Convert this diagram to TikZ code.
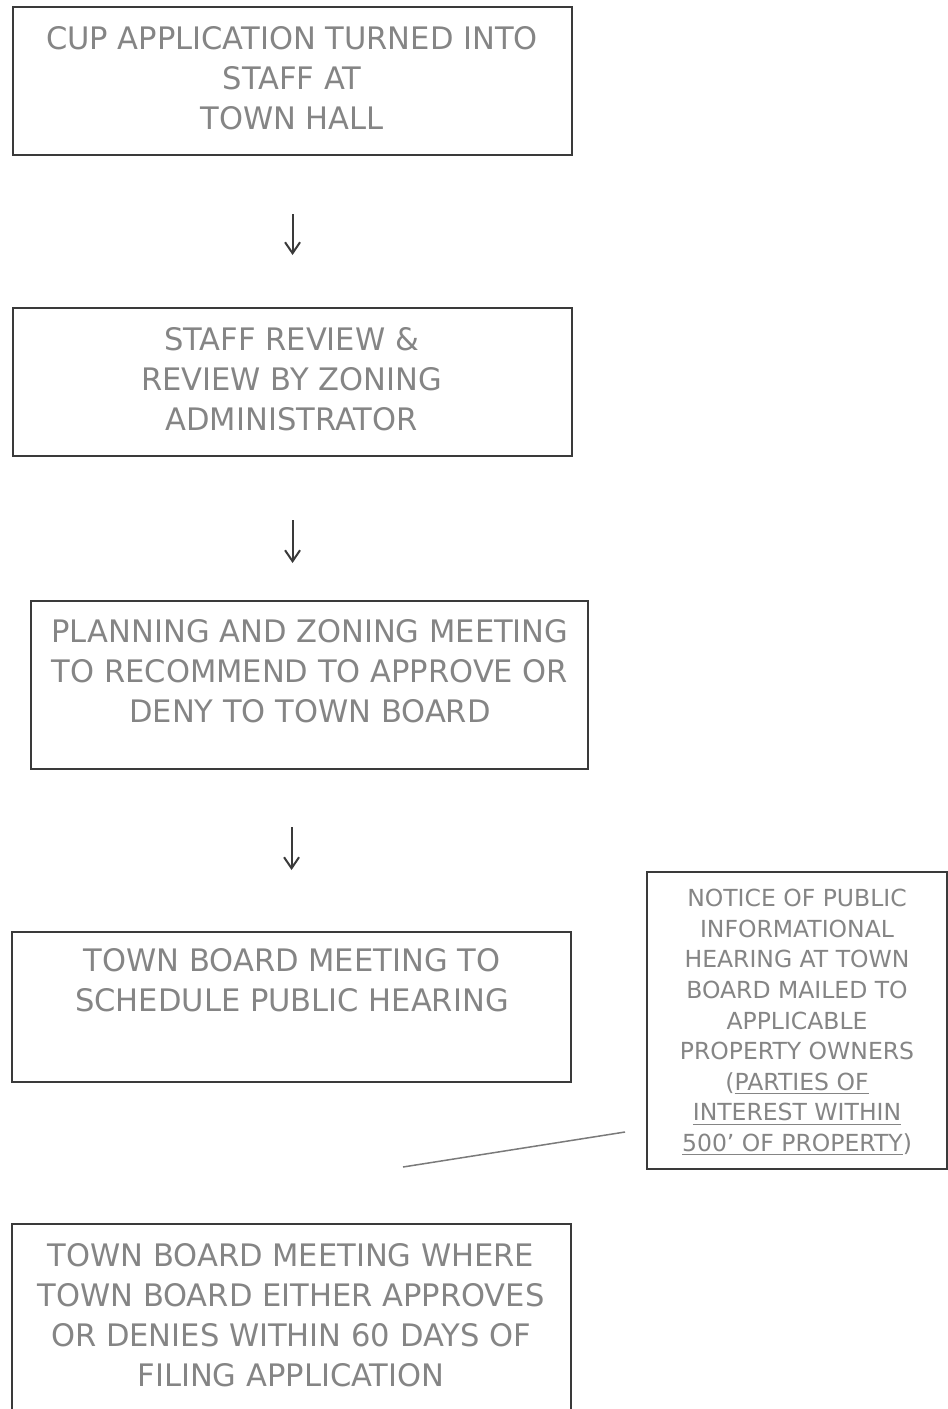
\documentclass[tikz,border=0pt]{standalone}
\usepackage{fontspec}
\setmainfont{DejaVu Sans}
\newfontfamily\stepfont[FakeStretch=0.985]{DejaVu Sans}
\usetikzlibrary{arrows.meta}
\definecolor{inkgray}{HTML}{858585}
\definecolor{framegray}{HTML}{3A3A3A}
\definecolor{leadgray}{HTML}{7A7A7A}
% underline drawn as an explicit rule below the baseline
\newcommand\ulin[1]{\setbox0\hbox{#1}\rlap{\color{inkgray}\rule[-4pt]{\wd0}{1.1pt}}\box0}

\begin{document}
\begin{tikzpicture}[x=1pt,y=-1pt,
  stepbox/.style={draw=framegray, line width=2.1pt, rectangle, inner sep=0pt, anchor=north west},
  bigtext/.style={text=inkgray, inner sep=0pt, anchor=north, align=center, font=\stepfont\fontsize{31}{40}\selectfont},
  smalltext/.style={text=inkgray, inner sep=0pt, anchor=north, align=center, font=\fontsize{23.5}{30.6}\selectfont},
  flow/.style={draw=framegray, line width=2pt, -{Straight Barb[length=11pt,width=15pt,line width=2pt]}},
  leader/.style={draw=leadgray, line width=1.5pt}]

\useasboundingbox (0,0) rectangle (948,1409);
\fill[white] (0,0) rectangle (948,1409);
\clip (0,0) rectangle (948,1409);

% process boxes
\node[stepbox, minimum width=559pt, minimum height=148pt] (b1) at (12,6) {};
\node[stepbox, minimum width=559pt, minimum height=148pt] (b2) at (12,307) {};
\node[stepbox, minimum width=557pt, minimum height=168pt] (b3) at (30,600) {};
\node[stepbox, minimum width=559pt, minimum height=150pt] (b4) at (11,931) {};
\node[stepbox, minimum width=559pt, minimum height=230pt] (b5) at (11,1223) {};
\node[stepbox, minimum width=300pt, minimum height=297pt] (nb) at (646,871) {};

% box texts
\node[bigtext] (t1) at (292,26) {CUP APPLICATION TURNED INTO\\STAFF AT\\TOWN HALL};
\node[bigtext] (t2) at (291.5,327) {STAFF REVIEW \&\\REVIEW BY ZONING\\ADMINISTRATOR};
\node[bigtext] (t3) at (310,619) {PLANNING AND ZONING MEETING\\TO RECOMMEND TO APPROVE OR\\DENY TO TOWN BOARD};
\node[bigtext] (t4) at (292,948) {TOWN BOARD MEETING TO\\SCHEDULE PUBLIC HEARING};
\node[bigtext] (t5) at (291,1243) {TOWN BOARD MEETING WHERE\\TOWN BOARD EITHER APPROVES\\OR DENIES WITHIN 60 DAYS OF\\FILING APPLICATION};
\node[smalltext] (tn) at (797,889) {NOTICE OF PUBLIC\\INFORMATIONAL\\HEARING AT TOWN\\BOARD MAILED TO\\APPLICABLE\\PROPERTY OWNERS\\(\ulin{PARTIES OF}\\\ulin{INTEREST WITHIN}\\\ulin{500’ OF PROPERTY})};

% flow arrows
\draw[flow] ([yshift=-58pt]b1.south) -- ([yshift=52pt]b2.north);
\draw[flow] ([yshift=-63pt]b2.south) -- ([yshift=37pt]b3.north -| b2.north);
\draw[flow] ([yshift=-57pt]b3.south -| b4.north) -- ([yshift=61pt]b4.north);

% leader line from the notice box
\coordinate (leadA) at (625,1132);
\coordinate (leadB) at (403,1167);
\draw[leader] (leadA) -- (leadB);
\end{tikzpicture}
\end{document}
